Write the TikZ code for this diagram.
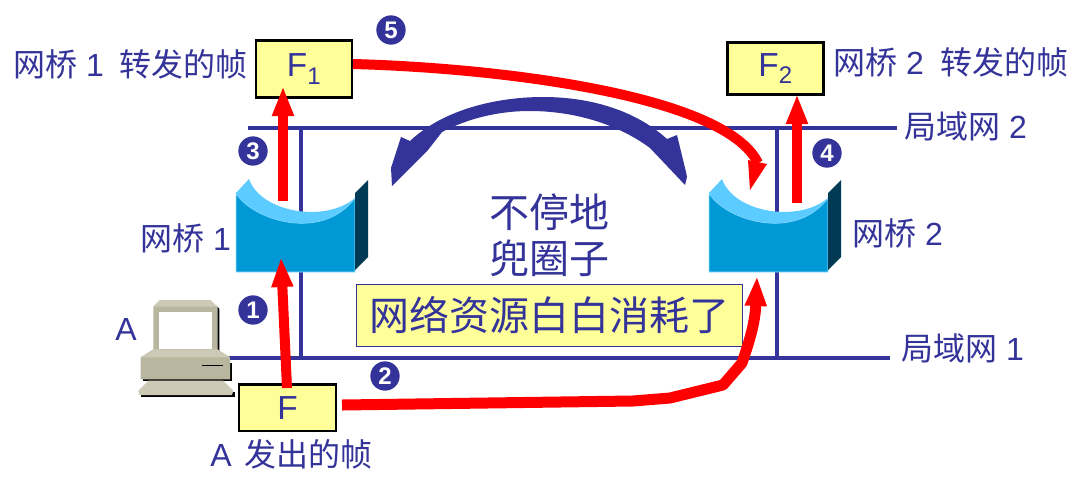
\documentclass[tikz,border=0pt]{standalone}
\usepackage{fontspec}
\setmainfont{Liberation Sans}
\newfontfamily\cjk{Noto Sans CJK SC}
\usetikzlibrary{arrows.meta}
\definecolor{navy}{HTML}{333399}
\definecolor{pale}{HTML}{FFFF99}
\definecolor{sky}{HTML}{0099D6}
\definecolor{crescent}{HTML}{5CCBFF}
\definecolor{sidec}{HTML}{003A55}
\definecolor{beige}{HTML}{B8B69E}
\definecolor{beigel}{HTML}{CCCAB6}
\newcommand{\subdig}[1]{\raisebox{-5.5pt}{\fontsize{18}{20}\selectfont #1}}
\tikzset{
  lan/.style={navy,line width=3pt},
  label/.style={text=navy,inner sep=0pt,font=\fontsize{24}{28}\selectfont},
  bigtext/.style={text=navy,inner sep=0pt,font=\fontsize{30}{34}\selectfont\cjk},
  frame/.style={draw=black,line width=1.9pt,fill=pale,inner sep=0pt,text=navy,anchor=north west,font=\fontsize{25}{28}\selectfont},
  num/.style={circle,fill=navy,text=white,inner sep=0pt,minimum size=22pt,font=\fontsize{18}{20}\selectfont\bfseries},
  redline/.style={red,line width=7.5pt,-{Triangle[length=22.5pt,width=15pt]}},
  bridgepic/.pic={
    \fill[sky,draw=crescent!60,line width=.6pt] (0,0) .. controls (15,26) and (85,50) .. (119,5) -- (119,79) -- (0,79) -- cycle;
    \fill[crescent] (0,0) -- (13,-14) .. controls (25,20) and (90,30) .. (119,5) .. controls (85,50) and (15,26) .. (0,0) -- cycle;
    \fill[sidec] (119,0) -- (132,-13) -- (132,64) -- (119,77) -- cycle;
  }
}
\begin{document}
\begin{tikzpicture}[x=.75pt,y=-.75pt]
\useasboundingbox (0,0) rectangle (1081,479);
% anchors
\coordinate (lan2a) at (248,128); \coordinate (lan2b) at (897,128);
\coordinate (lan1a) at (225,358); \coordinate (lan1b) at (890,358);
\coordinate (v1top) at (301,128); \coordinate (v1bot) at (301,356);
\coordinate (v2top) at (777,128); \coordinate (v2bot) at (777,357);
% LANs
\draw[lan] (lan2a) -- (lan2b);
\draw[lan] (lan1a) -- (lan1b);
\draw[lan] (v1top) -- (v1bot);
\draw[lan] (v2top) -- (v2bot);
% bridges
\pic at (236,193) {bridgepic};
\pic at (709,193) {bridgepic};
% computer
\begin{scope}[shift={(120,150)},x=.25pt,y=-.25pt]
\fill[black] (292,470) -- (298,476) -- (298,610) -- (292,610) -- cycle;
\fill[beige] (100,470) -- (120,450) -- (270,450) -- (292,470) -- (292,612) -- (100,612) -- cycle;
\fill[beigel] (100,470) -- (120,450) -- (270,450) -- (292,470) -- cycle;
\fill[white] (118,487) rectangle (275,598);
\fill[black] (68,640) rectangle (336,694);
\fill[beige] (62,622) -- (100,598) -- (292,598) -- (330,622) -- (330,688) -- (62,688) -- cycle;
\fill[beigel] (62,622) -- (100,598) -- (292,598) -- (330,622) -- cycle;
\draw[black,line width=.6pt] (247,647) -- (308,647);
\fill[black] (62,725) -- (344,725) -- (344,740) -- (62,740) -- cycle;
\fill[beigel] (55,722) -- (85,692) -- (310,692) -- (340,722) -- (336,735) -- (58,735) -- cycle;
\end{scope}
% frames
\node[frame,minimum width=72pt,minimum height=43pt] (F1) at (254.5,39) {F\subdig{1}};
\node[frame,minimum width=72pt,minimum height=39pt] (F2) at (726,41) {F\subdig{2}};
\node[frame,minimum width=73pt,minimum height=35pt] (F0) at (237.5,383) {F};
% yellow note
\node[draw=navy,line width=.75pt,fill=pale,inner sep=0pt,minimum width=289pt,minimum height=46pt,text=navy,font=\fontsize{30}{36}\selectfont\cjk] (note) at (549.5,315.5) {网络资源白白消耗了};
% labels
\node[label,anchor=west] (t1) at (13,64) {{\cjk 网桥} 1\hspace{12pt}{\cjk 转发的帧}};
\node[label,anchor=west] (t2) at (833,62) {{\cjk 网桥} 2\hspace{12.5pt}{\cjk 转发的帧}};
\node[label,anchor=west] (t3) at (904,126) {{\cjk 局域网} 2};
\node[label,anchor=west] (t4) at (901,348) {{\cjk 局域网} 1};
\node[label,anchor=west] (t5) at (140,238) {{\cjk 网桥} 1};
\node[label,anchor=west] (t6) at (852,233) {{\cjk 网桥} 2};
\node[label,anchor=center] (t7) at (126,329) {A};
\node[label,anchor=west] (t8) at (210,454) {A\hspace{10pt}{\cjk 发出的帧}};
\node[bigtext] (t9) at (549,212) {不停地};
\node[bigtext] (t10) at (549,258) {兜圈子};
% numbers
\node[num] (n5) at (391,30) {5};
\node[num] (n3) at (253,151) {3};
\node[num] (n1) at (253,310) {1};
\node[num] (n2) at (385,376) {2};
\node[num] (n4) at (827,153) {4};
% red arrows
\coordinate (a1s) at (287,388); \coordinate (a1e) at (281,257);
\coordinate (a3s) at (283,201); \coordinate (a3e) at (283,86);
\coordinate (a4s) at (797,203); \coordinate (a4e) at (797,94);
\coordinate (a5s) at (353,64); \coordinate (a5b) at (758,163); \coordinate (a5e) at (750,190);
\coordinate (a2s) at (342,405); \coordinate (a2e) at (757,276);
\draw[redline] (a1s) -- (a1e);
\draw[redline] (a3s) -- (a3e);
\draw[redline] (a4s) -- (a4e);
\draw[red,line width=7.5pt] (a5s) .. controls (500,68) and (725,95) .. (a5b);
\fill[red] (748,160) -- (767,164) -- (a5e) -- cycle;
\draw[redline,line width=8.25pt,line join=round] (a2s) -- (633,401) -- (670,398) -- (723,385) -- (742,363) .. controls (748,345) and (755,325) .. (a2e);
% loop arrow
\coordinate (lt) at (392,186); \coordinate (rt) at (685,185);
\fill[navy] (lt) -- (391,168) -- (401,137) -- (410,141) .. controls (445,108) and (500,97) .. (543,97) .. controls (590,97) and (635,110) .. (667,139) -- (677,135) -- (686,172) -- (687,177) -- (rt) -- (650,148) .. controls (615,122) and (570,111) .. (530,111) .. controls (495,111) and (465,120) .. (442,132) -- (428,150) -- cycle;
\end{tikzpicture}
\end{document}
